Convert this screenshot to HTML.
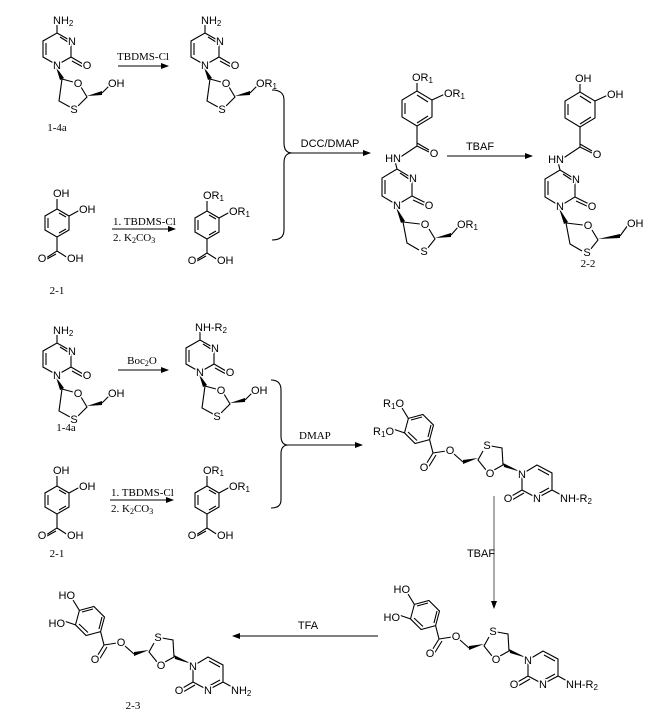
<!DOCTYPE html>
<html><head><meta charset="utf-8"><style>
html,body{margin:0;padding:0;background:#fff}
svg{display:block}
.b{fill:none;stroke:#000;stroke-width:1.1}
.t{font-family:"Liberation Sans",Arial,sans-serif;font-size:11px;fill:#000;stroke:#fff;stroke-width:3px;paint-order:stroke;stroke-linejoin:round}
.s{font-family:"Liberation Serif",serif;font-size:11px;fill:#000}
.a{font-family:"Liberation Sans",Arial,sans-serif;font-size:11px;fill:#000}
.sub{font-size:8px}
</style></head><body>
<svg width="663" height="723" viewBox="0 0 663 723" xmlns="http://www.w3.org/2000/svg">
<defs><marker id="ah" markerWidth="8" markerHeight="6" refX="7" refY="3" orient="auto" markerUnits="userSpaceOnUse"><path d="M0,0 L8,3 L0,6 Z" fill="#000"/></marker></defs>

<!-- ===== 1-4a (top) ===== -->
<g transform="translate(57,65)">
<path class="b" d="M0,0 L-14,-8 L-14,-24 L0,-32 L14,-24 L14,-8 Z M-11,-22 L-11,-10 M3,-28 L11,-23 M14,-8 L26,-1 M15,-4 L26,2 M0,-32 L0,-40 M5,14 L16,17 M24,22 L30,32 L21,41 M13,42 L2,36 L5,14 M45,28 L53,20"/>
<polygon points="-1,2 3,15 7,13" fill="#000"/><polygon points="30,31 45,26 45,30" fill="#000"/>
<text class="t" x="0" y="4" text-anchor="middle">N</text><text class="t" x="15" y="-20" text-anchor="middle">N</text><text class="t" x="30" y="4" text-anchor="middle">O</text>
<text class="t" x="-4" y="-41">NH<tspan class="sub" dy="2">2</tspan></text>
<text class="t" x="21" y="22" text-anchor="middle">O</text><text class="t" x="17" y="48" text-anchor="middle">S</text><text class="t" x="51" y="22">OH</text>
</g>
<text class="s" x="57" y="131" text-anchor="middle">1-4a</text>

<line class="b" x1="118" y1="66" x2="168" y2="66" marker-end="url(#ah)"/>
<text class="s" x="143" y="60" text-anchor="middle">TBDMS-Cl</text>

<g transform="translate(205,65)">
<path class="b" d="M0,0 L-14,-8 L-14,-24 L0,-32 L14,-24 L14,-8 Z M-11,-22 L-11,-10 M3,-28 L11,-23 M14,-8 L26,-1 M15,-4 L26,2 M0,-32 L0,-40 M5,14 L16,17 M24,22 L30,32 L21,41 M13,42 L2,36 L5,14 M45,28 L53,20"/>
<polygon points="-1,2 3,15 7,13" fill="#000"/><polygon points="30,31 45,26 45,30" fill="#000"/>
<text class="t" x="0" y="4" text-anchor="middle">N</text><text class="t" x="15" y="-20" text-anchor="middle">N</text><text class="t" x="30" y="4" text-anchor="middle">O</text>
<text class="t" x="-4" y="-41">NH<tspan class="sub" dy="2">2</tspan></text>
<text class="t" x="21" y="22" text-anchor="middle">O</text><text class="t" x="17" y="48" text-anchor="middle">S</text><text class="t" x="51" y="22">OR<tspan class="sub" dy="2">1</tspan></text>
</g>

<g transform="translate(57,223)">
<path class="b" d="M0,-14 L12,-7 L12,7 L0,14 L-12,7 L-12,-7 Z M-9,-5 L-9,5 M2,10 L9,6 M2,-10 L9,-6 M0,-14 L0,-24 M12,-7 L23,-13 M0,14 L0,28 L-11,35 M-1,31 L-10,36 M0,28 L11,35"/>
<text class="t" x="-4" y="-26">OH</text><text class="t" x="22" y="-10">OH</text>
<text class="t" x="-15" y="39" text-anchor="middle">O</text><text class="t" x="10" y="39">OH</text>
</g>
<text class="s" x="57" y="294" text-anchor="middle">2-1</text>

<line class="b" x1="112" y1="229" x2="175" y2="229" marker-end="url(#ah)"/>
<text class="s" x="113" y="225">1. TBDMS-Cl</text>
<text class="s" x="113" y="241">2. K<tspan class="sub" dy="2">2</tspan><tspan dy="-2">CO</tspan><tspan class="sub" dy="2">3</tspan></text>

<g transform="translate(207,225)">
<path class="b" d="M0,-14 L12,-7 L12,7 L0,14 L-12,7 L-12,-7 Z M-9,-5 L-9,5 M2,10 L9,6 M2,-10 L9,-6 M0,-14 L0,-24 M12,-7 L23,-13 M0,14 L0,28 L-11,35 M-1,31 L-10,36 M0,28 L11,35"/>
<text class="t" x="-4" y="-26">OR<tspan class="sub" dy="2">1</tspan></text><text class="t" x="22" y="-10">OR<tspan class="sub" dy="2">1</tspan></text>
<text class="t" x="-15" y="39" text-anchor="middle">O</text><text class="t" x="10" y="39">OH</text>
</g>

<path class="b" d="M272,90 Q284,90 284,100 L284,143 Q284,153 292,153 Q284,153 284,163 L284,230 Q284,240 272,240"/>
<line class="b" x1="292" y1="153" x2="370" y2="153" marker-end="url(#ah)"/>
<text class="a" x="330" y="147" text-anchor="middle">DCC/DMAP</text>

<!-- middle amide product -->
<g transform="translate(397,205)">
<path class="b" d="M0,0 L-15,-9 L-15,-27 L0,-36 L15,-27 L15,-9 Z M-12,-25 L-12,-11 M3,-32 L12,-26 M15,-9 L29,-2 M16,-5 L29,1 M0,-36 L-2,-44 M2,-47 L20,-59 L34,-52 M20,-62 L32,-55 M20,-59 L20,-79 M20,-79 L5,-88 L5,-105 L20,-114 L35,-105 L35,-88 Z M8,-102 L8,-91 M20,-110 L31,-103 M20,-82 L31,-89 M20,-114 L20,-122 M35,-105 L48,-111 M6,17 L23,19 M32,24 L38,34 L30,44 M22,45 L10,38 L6,17 M54,30 L62,21"/>
<polygon points="-1,2 4,18 8,16" fill="#000"/><polygon points="38,33 54,28 54,32" fill="#000"/>
<text class="t" x="0" y="4" text-anchor="middle">N</text><text class="t" x="16" y="-23" text-anchor="middle">N</text><text class="t" x="32" y="4" text-anchor="middle">O</text>
<text class="t" x="4" y="-43" text-anchor="end">HN</text><text class="t" x="37" y="-48" text-anchor="middle">O</text>
<text class="t" x="15" y="-124">OR<tspan class="sub" dy="2">1</tspan></text><text class="t" x="47" y="-108">OR<tspan class="sub" dy="2">1</tspan></text>
<text class="t" x="28" y="23" text-anchor="middle">O</text><text class="t" x="27" y="50" text-anchor="middle">S</text><text class="t" x="60" y="23">OR<tspan class="sub" dy="2">1</tspan></text>
</g>

<line class="b" x1="447" y1="156" x2="532" y2="156" marker-end="url(#ah)"/>
<text class="a" x="480" y="150" text-anchor="middle">TBAF</text>

<!-- 2-2 -->
<g transform="translate(560,206)">
<path class="b" d="M0,0 L-15,-9 L-15,-27 L0,-36 L15,-27 L15,-9 Z M-12,-25 L-12,-11 M3,-32 L12,-26 M15,-9 L29,-2 M16,-5 L29,1 M0,-36 L-2,-44 M2,-47 L20,-59 L34,-52 M20,-62 L32,-55 M20,-59 L20,-79 M20,-79 L5,-88 L5,-105 L20,-114 L35,-105 L35,-88 Z M8,-102 L8,-91 M20,-110 L31,-103 M20,-82 L31,-89 M20,-114 L20,-122 M35,-105 L48,-111 M6,17 L23,19 M32,24 L38,34 L30,44 M22,45 L10,38 L6,17 M60,30 L68,19"/>
<polygon points="-1,2 4,18 8,16" fill="#000"/><polygon points="38,33 60,28 60,32" fill="#000"/>
<text class="t" x="0" y="4" text-anchor="middle">N</text><text class="t" x="16" y="-23" text-anchor="middle">N</text><text class="t" x="32" y="4" text-anchor="middle">O</text>
<text class="t" x="4" y="-43" text-anchor="end">HN</text><text class="t" x="37" y="-48" text-anchor="middle">O</text>
<text class="t" x="15" y="-124">OH</text><text class="t" x="47" y="-108">OH</text>
<text class="t" x="28" y="23" text-anchor="middle">O</text><text class="t" x="27" y="50" text-anchor="middle">S</text><text class="t" x="67" y="21">OH</text>
</g>
<text class="s" x="588" y="267" text-anchor="middle">2-2</text>

<!-- ===== bottom section ===== -->
<g transform="translate(57,375)">
<path class="b" d="M0,0 L-14,-8 L-14,-24 L0,-32 L14,-24 L14,-8 Z M-11,-22 L-11,-10 M3,-28 L11,-23 M14,-8 L26,-1 M15,-4 L26,2 M0,-32 L0,-40 M5,14 L16,17 M24,22 L30,32 L21,41 M13,42 L2,36 L5,14 M45,28 L53,20"/>
<polygon points="-1,2 3,15 7,13" fill="#000"/><polygon points="30,31 45,26 45,30" fill="#000"/>
<text class="t" x="0" y="4" text-anchor="middle">N</text><text class="t" x="15" y="-20" text-anchor="middle">N</text><text class="t" x="30" y="4" text-anchor="middle">O</text>
<text class="t" x="-4" y="-41">NH<tspan class="sub" dy="2">2</tspan></text>
<text class="t" x="21" y="22" text-anchor="middle">O</text><text class="t" x="17" y="48" text-anchor="middle">S</text><text class="t" x="51" y="22">OH</text>
</g>
<text class="s" x="66" y="431" text-anchor="middle">1-4a</text>

<line class="b" x1="118" y1="370" x2="168" y2="370" marker-end="url(#ah)"/>
<text class="s" x="142" y="364" text-anchor="middle">Boc<tspan class="sub" dy="2">2</tspan><tspan dy="-2">O</tspan></text>

<g transform="translate(200,372)">
<path class="b" d="M0,0 L-14,-8 L-14,-24 L0,-32 L14,-24 L14,-8 Z M-11,-22 L-11,-10 M3,-28 L11,-23 M14,-8 L26,-1 M15,-4 L26,2 M0,-32 L0,-40 M5,14 L16,17 M24,22 L30,32 L21,41 M13,42 L2,36 L5,14 M45,28 L53,20"/>
<polygon points="-1,2 3,15 7,13" fill="#000"/><polygon points="30,31 45,26 45,30" fill="#000"/>
<text class="t" x="0" y="4" text-anchor="middle">N</text><text class="t" x="15" y="-20" text-anchor="middle">N</text><text class="t" x="30" y="4" text-anchor="middle">O</text>
<text class="t" x="-5" y="-41">NH-R<tspan class="sub" dy="2">2</tspan></text>
<text class="t" x="21" y="22" text-anchor="middle">O</text><text class="t" x="17" y="48" text-anchor="middle">S</text><text class="t" x="51" y="22">OH</text>
</g>

<g transform="translate(57,500)">
<path class="b" d="M0,-14 L12,-7 L12,7 L0,14 L-12,7 L-12,-7 Z M-9,-5 L-9,5 M2,10 L9,6 M2,-10 L9,-6 M0,-14 L0,-24 M12,-7 L23,-13 M0,14 L0,28 L-11,35 M-1,31 L-10,36 M0,28 L11,35"/>
<text class="t" x="-4" y="-26">OH</text><text class="t" x="22" y="-10">OH</text>
<text class="t" x="-15" y="39" text-anchor="middle">O</text><text class="t" x="10" y="39">OH</text>
</g>
<text class="s" x="57" y="557" text-anchor="middle">2-1</text>

<line class="b" x1="110" y1="500" x2="173" y2="500" marker-end="url(#ah)"/>
<text class="s" x="111" y="496">1. TBDMS-Cl</text>
<text class="s" x="111" y="512">2. K<tspan class="sub" dy="2">2</tspan><tspan dy="-2">CO</tspan><tspan class="sub" dy="2">3</tspan></text>

<g transform="translate(207,500)">
<path class="b" d="M0,-14 L12,-7 L12,7 L0,14 L-12,7 L-12,-7 Z M-9,-5 L-9,5 M2,10 L9,6 M2,-10 L9,-6 M0,-14 L0,-24 M12,-7 L23,-13 M0,14 L0,28 L-11,35 M-1,31 L-10,36 M0,28 L11,35"/>
<text class="t" x="-4" y="-26">OR<tspan class="sub" dy="2">1</tspan></text><text class="t" x="22" y="-10">OR<tspan class="sub" dy="2">1</tspan></text>
<text class="t" x="-15" y="39" text-anchor="middle">O</text><text class="t" x="10" y="39">OH</text>
</g>

<path class="b" d="M271,380 Q281,380 281,390 L281,436 Q281,445 288,445 Q281,445 281,454 L281,500 Q281,508 271,508"/>
<line class="b" x1="288" y1="445" x2="362" y2="445" marker-end="url(#ah)"/>
<text class="s" x="299" y="439">DMAP</text>

<!-- DMAP product -->
<g transform="translate(522,474)">
<path class="b" d="M0,0 L15,-9 L30,-1 L30,16 L15,24 L0,16 Z M16,-5 L27,1 M27,14 L16,20 M0,16 L-12,23 M2,19 L-10,26 M30,16 L41,22 M-19,-9 L-28,-4 M-36,-4 L-44,-14 L-39,-23 M-31,-28 L-20,-26 L-19,-9 M-59,-12 L-68,-20 M-76,-23 L-89,-21 M-89,-21 L-97,-8 M-86,-19 L-94,-6 M-89,-21 L-92.4,-34.4 M-92.4,-34.4 L-106.9,-30.5 L-117.5,-41.1 L-113.6,-55.6 L-99.1,-59.5 L-88.5,-48.9 Z M-105,-33.5 L-114,-42 M-111,-54 L-100,-57 M-91,-49 L-94,-37 M-113.6,-55.6 L-120,-66 M-117.5,-41.1 L-129,-45"/>
<polygon points="-1,-2 -19,-11 -18,-7" fill="#000"/><polygon points="-44,-16 -59,-14 -59,-10" fill="#000"/>
<text class="t" x="0" y="4" text-anchor="middle">N</text><text class="t" x="15" y="28" text-anchor="middle">N</text><text class="t" x="-14" y="28" text-anchor="middle">O</text>
<text class="t" x="38" y="28">NH-R<tspan class="sub" dy="2">2</tspan></text>
<text class="t" x="-32" y="3" text-anchor="middle">O</text><text class="t" x="-35" y="-25" text-anchor="middle">S</text>
<text class="t" x="-72" y="-20" text-anchor="middle">O</text><text class="t" x="-98" y="-3" text-anchor="middle">O</text>
<text class="t" x="-118" y="-67" text-anchor="end">R<tspan class="sub" dy="2">1</tspan><tspan dy="-2">O</tspan></text>
<text class="t" x="-128" y="-39" text-anchor="end">R<tspan class="sub" dy="2">1</tspan><tspan dy="-2">O</tspan></text>
</g>

<line x1="494" y1="496" x2="494" y2="608" stroke="#555" stroke-width="1" marker-end="url(#ah)"/>
<text class="a" x="481" y="557" text-anchor="middle">TBAF</text>

<!-- bottom right -->
<g transform="translate(528,660)">
<path class="b" d="M0,0 L15,-9 L30,-1 L30,16 L15,24 L0,16 Z M16,-5 L27,1 M27,14 L16,20 M0,16 L-12,23 M2,19 L-10,26 M30,16 L41,22 M-19,-9 L-28,-4 M-36,-4 L-44,-14 L-39,-23 M-31,-28 L-20,-26 L-19,-9 M-59,-12 L-68,-20 M-76,-23 L-89,-21 M-89,-21 L-97,-8 M-86,-19 L-94,-6 M-89,-21 L-92.4,-34.4 M-92.4,-34.4 L-106.9,-30.5 L-117.5,-41.1 L-113.6,-55.6 L-99.1,-59.5 L-88.5,-48.9 Z M-105,-33.5 L-114,-42 M-111,-54 L-100,-57 M-91,-49 L-94,-37 M-113.6,-55.6 L-120,-66 M-117.5,-41.1 L-129,-45"/>
<polygon points="-1,-2 -19,-11 -18,-7" fill="#000"/><polygon points="-44,-16 -59,-14 -59,-10" fill="#000"/>
<text class="t" x="0" y="4" text-anchor="middle">N</text><text class="t" x="15" y="28" text-anchor="middle">N</text><text class="t" x="-14" y="28" text-anchor="middle">O</text>
<text class="t" x="38" y="28">NH-R<tspan class="sub" dy="2">2</tspan></text>
<text class="t" x="-32" y="3" text-anchor="middle">O</text><text class="t" x="-35" y="-25" text-anchor="middle">S</text>
<text class="t" x="-72" y="-20" text-anchor="middle">O</text><text class="t" x="-98" y="-3" text-anchor="middle">O</text>
<text class="t" x="-118" y="-67" text-anchor="end">HO</text>
<text class="t" x="-128" y="-39" text-anchor="end">HO</text>
</g>

<line class="b" x1="378" y1="636" x2="233" y2="636" stroke-width="1.4" marker-end="url(#ah)"/>
<text class="a" x="308" y="629" text-anchor="middle">TFA</text>

<!-- 2-3 -->
<g transform="translate(193,666)">
<path class="b" d="M0,0 L15,-9 L30,-1 L30,16 L15,24 L0,16 Z M16,-5 L27,1 M27,14 L16,20 M0,16 L-12,23 M2,19 L-10,26 M30,16 L41,22 M-19,-9 L-28,-4 M-36,-4 L-44,-14 L-39,-23 M-31,-28 L-20,-26 L-19,-9 M-59,-12 L-68,-20 M-76,-23 L-89,-21 M-89,-21 L-97,-8 M-86,-19 L-94,-6 M-89,-21 L-92.4,-34.4 M-92.4,-34.4 L-106.9,-30.5 L-117.5,-41.1 L-113.6,-55.6 L-99.1,-59.5 L-88.5,-48.9 Z M-105,-33.5 L-114,-42 M-111,-54 L-100,-57 M-91,-49 L-94,-37 M-113.6,-55.6 L-120,-66 M-117.5,-41.1 L-129,-45"/>
<polygon points="-1,-2 -19,-11 -18,-7" fill="#000"/><polygon points="-44,-16 -59,-14 -59,-10" fill="#000"/>
<text class="t" x="0" y="4" text-anchor="middle">N</text><text class="t" x="15" y="28" text-anchor="middle">N</text><text class="t" x="-14" y="28" text-anchor="middle">O</text>
<text class="t" x="38" y="28">NH<tspan class="sub" dy="2">2</tspan></text>
<text class="t" x="-32" y="3" text-anchor="middle">O</text><text class="t" x="-35" y="-25" text-anchor="middle">S</text>
<text class="t" x="-72" y="-20" text-anchor="middle">O</text><text class="t" x="-98" y="-3" text-anchor="middle">O</text>
<text class="t" x="-118" y="-67" text-anchor="end">HO</text>
<text class="t" x="-128" y="-39" text-anchor="end">HO</text>
</g>
<text class="s" x="133" y="709" text-anchor="middle">2-3</text>
</svg>
</body></html>
